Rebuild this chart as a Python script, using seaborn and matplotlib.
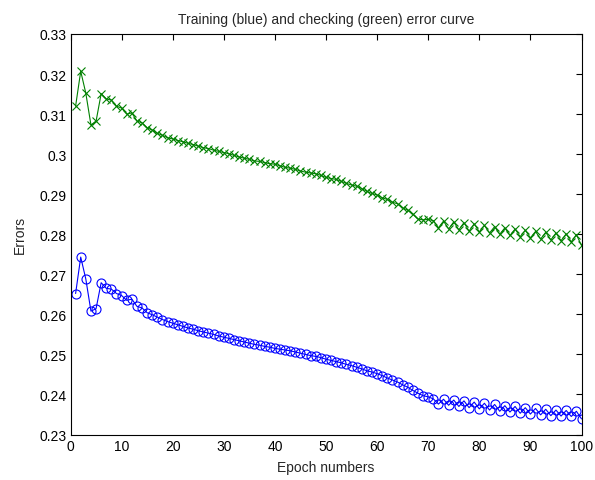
import numpy as np
import pandas as pd
import matplotlib
matplotlib.use("Agg")
import matplotlib.pyplot as plt
import seaborn as sns

# epochs 1..100
epochs = list(range(1, 101))

# training error (blue)
train_err = [
    0.2652, 0.2743, 0.2688, 0.2608, 0.2614, 0.2679, 0.2665, 0.2663, 0.2652, 0.2647,
    0.2635, 0.2638, 0.2620, 0.2616, 0.2604, 0.2599, 0.2593, 0.2587, 0.2582, 0.2578,
    0.2574, 0.2570, 0.2566, 0.2563, 0.2559, 0.2556, 0.2553, 0.2550, 0.2546, 0.2543,
    0.2540, 0.2537, 0.2534, 0.2531, 0.2528, 0.2525, 0.2523, 0.2520, 0.2518, 0.2515,
    0.2513, 0.2511, 0.2509, 0.2506, 0.2503, 0.2500, 0.2497, 0.2495, 0.2492, 0.2488,
    0.2485, 0.2482, 0.2479, 0.2475, 0.2472, 0.2468, 0.2464, 0.2459, 0.2456, 0.2452,
    0.2447, 0.2441, 0.2436, 0.2431, 0.2424, 0.2418, 0.2410, 0.2403, 0.2397, 0.2394,
    0.2389, 0.2376, 0.2388, 0.2373, 0.2386, 0.2370, 0.2384, 0.2367, 0.2381, 0.2364,
    0.2378, 0.2361, 0.2375, 0.2358, 0.2372, 0.2356, 0.2370, 0.2353, 0.2367, 0.2351,
    0.2365, 0.2349, 0.2363, 0.2347, 0.2361, 0.2346, 0.2360, 0.2345, 0.2358, 0.2339,
]

# checking error (green)
check_err = [
    0.3120, 0.3207, 0.3152, 0.3073, 0.3082, 0.3151, 0.3138, 0.3135, 0.3120, 0.3115,
    0.3100, 0.3103, 0.3083, 0.3078, 0.3066, 0.3060, 0.3052, 0.3047, 0.3041, 0.3038,
    0.3034, 0.3031, 0.3027, 0.3024, 0.3020, 0.3016, 0.3014, 0.3010, 0.3007, 0.3004,
    0.3001, 0.2997, 0.2993, 0.2990, 0.2987, 0.2983, 0.2982, 0.2979, 0.2976, 0.2975,
    0.2971, 0.2967, 0.2965, 0.2962, 0.2958, 0.2955, 0.2953, 0.2951, 0.2947, 0.2942,
    0.2939, 0.2937, 0.2932, 0.2927, 0.2923, 0.2920, 0.2914, 0.2907, 0.2902, 0.2898,
    0.2891, 0.2887, 0.2880, 0.2876, 0.2866, 0.2860, 0.2850, 0.2838, 0.2836, 0.2837,
    0.2834, 0.2816, 0.2833, 0.2813, 0.2831, 0.2811, 0.2829, 0.2808, 0.2826, 0.2806,
    0.2822, 0.2803, 0.2819, 0.2800, 0.2816, 0.2797, 0.2813, 0.2794, 0.2810, 0.2791,
    0.2807, 0.2788, 0.2805, 0.2786, 0.2803, 0.2784, 0.2801, 0.2781, 0.2799, 0.2772,
]

df = pd.DataFrame({"epoch": epochs, "train": train_err, "check": check_err})

sns.set_theme(style="white")
plt.rcParams["font.family"] = ["Liberation Sans", "DejaVu Sans"]
plt.rcParams["font.size"] = 10

fig = plt.figure(figsize=(5.95, 4.81), dpi=100)
ax = fig.add_axes([70.5 / 595, (481 - 435.5) / 481, 511 / 595, 400.5 / 481])

sns.lineplot(data=df, x="epoch", y="check", ax=ax, color="#008000",
             marker="x", markersize=5.5, markeredgecolor="#008000",
             markeredgewidth=0.8, linewidth=0.8)
sns.lineplot(data=df, x="epoch", y="train", ax=ax, color="#0000ff",
             marker="o", markersize=6.5, markerfacecolor="none",
             markeredgecolor="#0000ff", markeredgewidth=0.8, linewidth=0.8)

yticks = np.round(np.arange(0.23, 0.3301, 0.01), 2)
ax.set_xlim(0, 100)
ax.set_ylim(0.23, 0.33)
ax.set_xticks(np.arange(0, 101, 10))
ax.set_yticks(yticks)
ax.set_yticklabels([f"{v:g}" for v in yticks])

ax.tick_params(direction="in", top=True, right=True, length=4, width=0.8,
               labelsize=10, colors="black", pad=3)
for s in ax.spines.values():
    s.set_color("black")
    s.set_linewidth(0.8)

ax.set_xlabel("Epoch numbers", fontsize=10, labelpad=5)
ax.set_ylabel("Errors", fontsize=10, labelpad=9)
ax.set_title("Training (blue) and checking (green) error curve", fontsize=10, pad=8)

fig.savefig("out.png", dpi=100, facecolor="white")
